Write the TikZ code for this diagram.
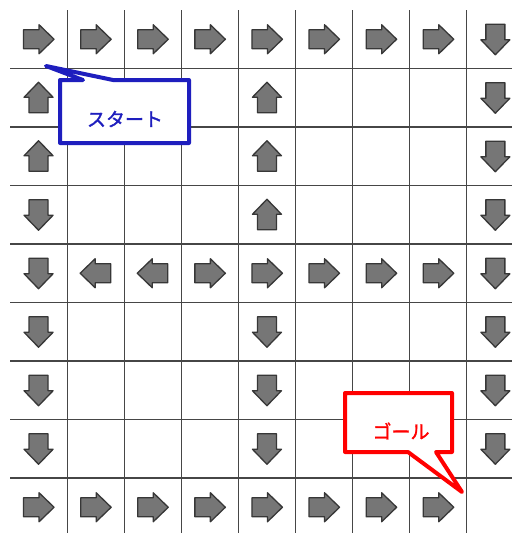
\documentclass[tikz,border=0pt]{standalone}
\usepackage{fontspec}
\newfontfamily\jpfont[FakeBold=1.5]{Noto Sans CJK JP}
\definecolor{gridc}{RGB}{70,70,70}
\definecolor{arrfill}{RGB}{118,118,118}
\definecolor{arredge}{RGB}{55,55,55}
\definecolor{startc}{RGB}{30,30,190}
\definecolor{goalc}{RGB}{255,0,0}
\tikzset{
  gridline/.style={draw=gridc, line width=1.1pt},
  arrowshape/.style={fill=arrfill, draw=arredge, line width=1.3pt, line join=round},
  arr/.pic={\path[arrowshape] (-15,-9.5) -- (0.5,-9.5) -- (0.5,-14.5) -- (15.5,0) -- (0.5,14.5) -- (0.5,9.5) -- (-15,9.5) -- cycle;},
  calloutline/.style={line width=4pt, line join=round, fill=white},
  callouttext/.style={font=\jpfont\fontsize{19}{19}\selectfont, inner sep=0pt}
}
\begin{document}
\begin{tikzpicture}[x=1pt,y=-1pt]
\useasboundingbox (0,0) rectangle (512,533);
\fill[white] (0,0) rectangle (512,533);
% grid
\foreach \k in {1,...,8} {
  \draw[gridline] ({10+57.1*\k},10) -- ({10+57.1*\k},533);
  \draw[gridline] (10,{10+58.5*\k}) -- (512,{10+58.5*\k});
}
% arrows: R=0, U=90, D=-90, L=180
\foreach \r/\c/\a in {
  1/1/0,1/2/0,1/3/0,1/4/0,1/5/0,1/6/0,1/7/0,1/8/0,1/9/-90,
  2/1/90,2/5/90,2/9/-90,
  3/1/90,3/5/90,3/9/-90,
  4/1/-90,4/5/90,4/9/-90,
  5/1/-90,5/2/180,5/3/180,5/4/0,5/5/0,5/6/0,5/7/0,5/8/0,5/9/-90,
  6/1/-90,6/5/-90,6/9/-90,
  7/1/-90,7/5/-90,7/9/-90,
  8/1/-90,8/5/-90,8/9/-90,
  9/1/0,9/2/0,9/3/0,9/4/0,9/5/0,9/6/0,9/7/0,9/8/0} {
  \pic[rotate=\a] at ({10+57.1*(\c-0.5)},{10+58.5*(\r-0.5)}) {arr};
}
% start callout
\draw[calloutline, draw=startc] (60,80) -- (83,80) -- (46,66) -- (113,80) -- (189,80) -- (189,143) -- (60,143) -- cycle;
\node[callouttext, text=startc] (start) at (125,119) {スタート};
% goal callout
\draw[calloutline, draw=goalc] (345,393) -- (452,393) -- (452,452) -- (436,452) -- (462,492) -- (408,452) -- (345,452) -- cycle;
\node[callouttext, text=goalc] (goal) at (401,431) {ゴール};
\end{tikzpicture}
\end{document}
